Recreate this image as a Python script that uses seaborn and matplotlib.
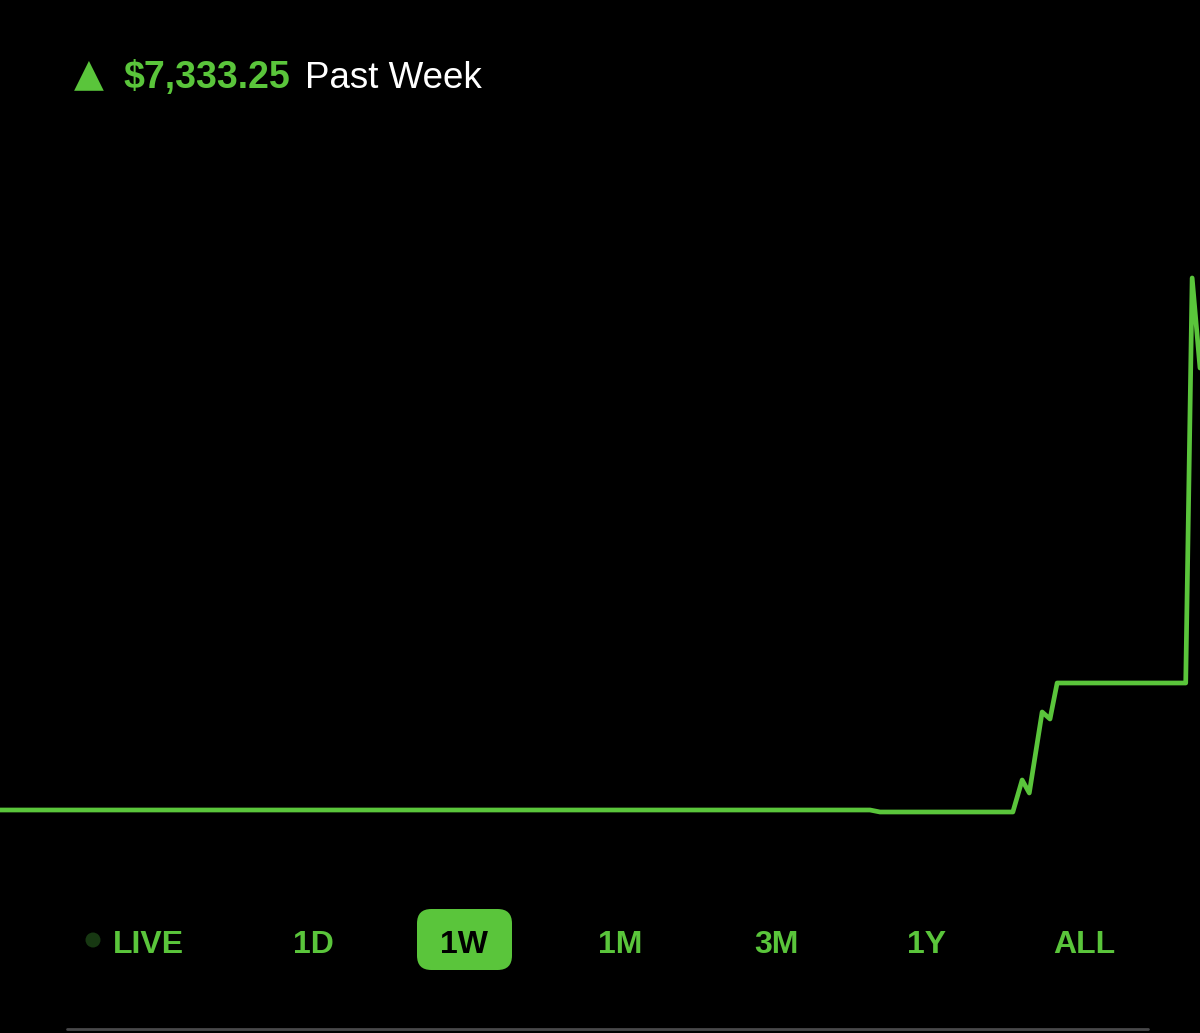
import pandas as pd
import seaborn as sns
import matplotlib.pyplot as plt
from matplotlib.patches import FancyBboxPatch, Ellipse

# data: hours into the week vs. gain in dollars since start
hours = [0, 121.8, 123.2, 141.8, 143.1, 144.1, 145.9, 147.0, 148.0, 166.0, 166.9, 168.0]
gain = [0, 0, -33, -33, 498, 282, 1626, 1510, 2107, 2107, 8827, 7333.25]
periods = ['LIVE', '1D', '1W', '1M', '3M', '1Y', 'ALL']
selected = '1W'
total_gain = '$7,333.25'
period_label = 'Past Week'

green = '#5ac53b'

sns.set_style('dark')
plt.rcParams['font.family'] = ['Liberation Sans', 'DejaVu Sans']

df = pd.DataFrame({'hour': hours, 'gain': gain})

fig = plt.figure(figsize=(12, 10.33), dpi=100, facecolor='black')
ax = fig.add_axes([0, 0, 1, 1])
ax.set_facecolor('black')
sns.lineplot(data=df, x='hour', y='gain', ax=ax, color=green, linewidth=3.4,
             solid_joinstyle='round')
scale = 7333.25 / 442
ax.set_xlim(0, 168)
ax.set_ylim((810 - 1033) * scale, 810 * scale)
ax.set_axis_off()

# header
W, H = 1200, 1033
def fx(px):
    return px / W
def fy(py):
    return 1 - py / H

fig.text(fx(89), fy(85), '▲', color=green, fontsize=28, ha='center', va='baseline',
         family='DejaVu Sans')
fig.text(fx(123), fy(88), total_gain, color=green, fontsize=27, fontweight='bold',
         ha='left', va='baseline')
fig.text(fx(305), fy(88), period_label, color='white', fontsize=26.5,
         ha='left', va='baseline')

# period selector
centers = [148, 313, 464, 620, 776, 927, 1084]
for name, cx in zip(periods, centers):
    if name == selected:
        box = FancyBboxPatch((fx(417), fy(970)), fx(95), (970 - 909) / H,
                             boxstyle='round,pad=0,rounding_size=0.012',
                             transform=fig.transFigure, facecolor=green,
                             edgecolor='none', mutation_aspect=W / H)
        fig.patches.append(box)
        col = 'black'
    else:
        col = green
    fig.text(fx(cx), fy(953), name, color=col, fontsize=23, fontweight='bold',
             ha='center', va='baseline')

dot = Ellipse((fx(93), fy(940)), 15 / W, 15 / H, transform=fig.transFigure,
              facecolor='#173812', edgecolor='none')
fig.patches.append(dot)

fig.add_artist(plt.Line2D([fx(67), fx(1148)], [fy(1029), fy(1029)],
                          color='#48484a', linewidth=2, transform=fig.transFigure))

fig.savefig('out.png', dpi=100, facecolor='black')
